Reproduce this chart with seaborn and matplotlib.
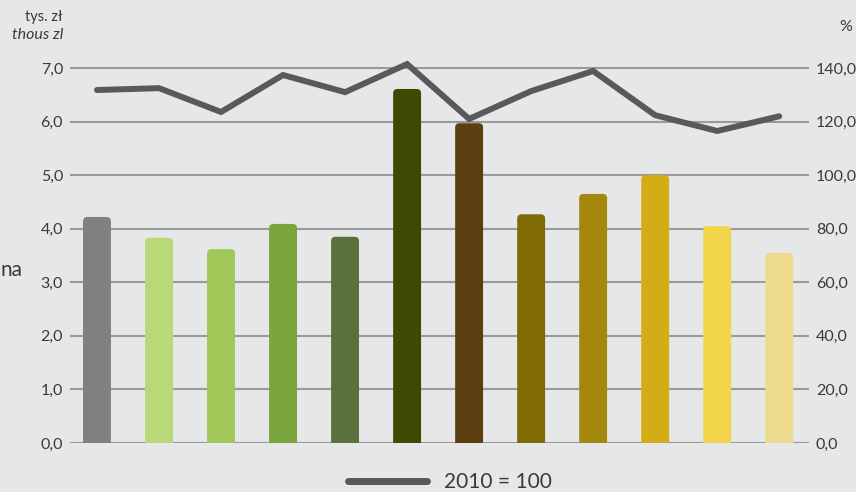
import matplotlib
matplotlib.use("Agg")
import matplotlib.pyplot as plt
from matplotlib.patches import FancyBboxPatch
from matplotlib.lines import Line2D
from matplotlib.ticker import FuncFormatter
import pandas as pd
import seaborn as sns

# data
categories = [f"k{i}" for i in range(1, 13)]
values_tys = [4.22, 3.83, 3.62, 4.09, 3.85, 6.61, 5.97, 4.27, 4.65, 5.00, 4.05, 3.55]
index_2010 = [131.8, 132.5, 123.6, 137.4, 131.0, 141.5, 121.0, 131.4, 138.9, 122.4, 116.5, 122.0]
bar_colors = ["#808083", "#b8d87a", "#a0c858", "#7aa43c", "#5a713c", "#3c4a04",
              "#5c3f10", "#806a04", "#a4870c", "#d4ad16", "#f2d54a", "#eedb8e"]
left_ticks = [0, 1, 2, 3, 4, 5, 6, 7]
right_ticks = [0, 20, 40, 60, 80, 100, 120, 140]

BG = "#e6e7e9"
GRID = "#9a9a9c"
LINE = "#58595b"
TXT = "#3a3a3a"

sns.set_theme(style="white")
plt.rcParams["font.family"] = ["Lato", "DejaVu Sans"]

df = pd.DataFrame({"cat": categories, "val": values_tys, "idx": index_2010})

fig = plt.figure(figsize=(8.56, 4.92), dpi=100, facecolor=BG)
ax = fig.add_axes([70 / 856, 49 / 492, 739 / 856, 391 / 492])
ax.set_facecolor(BG)

sns.barplot(data=df, x="cat", y="val", hue="cat", palette=bar_colors,
            saturation=1, legend=False, width=0.45, ax=ax, zorder=2)

# round the top corners of the bars
for p in list(ax.patches):
    x, w, h, c = p.get_x(), p.get_width(), p.get_height(), p.get_facecolor()
    p.remove()
    ax.add_patch(FancyBboxPatch((x, -0.3), w, h + 0.3,
                                boxstyle="round,pad=0,rounding_size=0.07",
                                mutation_aspect=1.15, facecolor=c,
                                edgecolor="none", zorder=2))

ax.set_xlim(-0.435, 11.48)
ax.set_ylim(0, 7.3)
ax.set_yticks(left_ticks)
ax.yaxis.set_major_formatter(FuncFormatter(lambda v, _: f"{v:.1f}".replace(".", ",")))
for y in left_ticks:
    ax.axhline(y, color=GRID, linewidth=1.5, zorder=1)
ax.set_xticks([])
ax.set_xlabel("")
ax.set_ylabel("")
for s in ax.spines.values():
    s.set_visible(False)
ax.tick_params(axis="y", length=0, pad=5, labelsize=11.5, labelcolor=TXT)

ax2 = ax.twinx()
sns.lineplot(data=df, x="cat", y="idx", color=LINE, linewidth=4.3,
             ax=ax2, solid_capstyle="round", solid_joinstyle="miter", zorder=3)
ax2.set_ylim(0, 146)
ax2.set_yticks(right_ticks)
ax2.yaxis.set_major_formatter(FuncFormatter(lambda v, _: f"{v:.1f}".replace(".", ",")))
ax2.set_ylabel("")
for s in ax2.spines.values():
    s.set_visible(False)
ax2.tick_params(axis="y", length=0, pad=5, labelsize=11.5, labelcolor=TXT)

fig.text(63 / 856, 1 - 17 / 492, "tys. zł", ha="right", va="center",
         fontsize=10.5, color=TXT)
fig.text(63 / 856, 1 - 35 / 492, "thous zl", ha="right", va="center",
         fontsize=11.5, style="italic", color=TXT)
fig.text(852 / 856, 1 - 27 / 492, "%", ha="right", va="center",
         fontsize=11.5, color=TXT)
fig.text(1 / 856, 1 - 270 / 492, "na", ha="left", va="center",
         fontsize=15, color=TXT)

handle = Line2D([], [], color=LINE, linewidth=5, solid_capstyle="round")
fig.legend([handle], ["2010 = 100"], loc="center", bbox_to_anchor=(450 / 856, 1 - 482 / 492),
           frameon=False, handlelength=3.8, fontsize=15, labelcolor=TXT,
           handletextpad=0.8)

fig.savefig("out.png", dpi=100, facecolor=BG)
